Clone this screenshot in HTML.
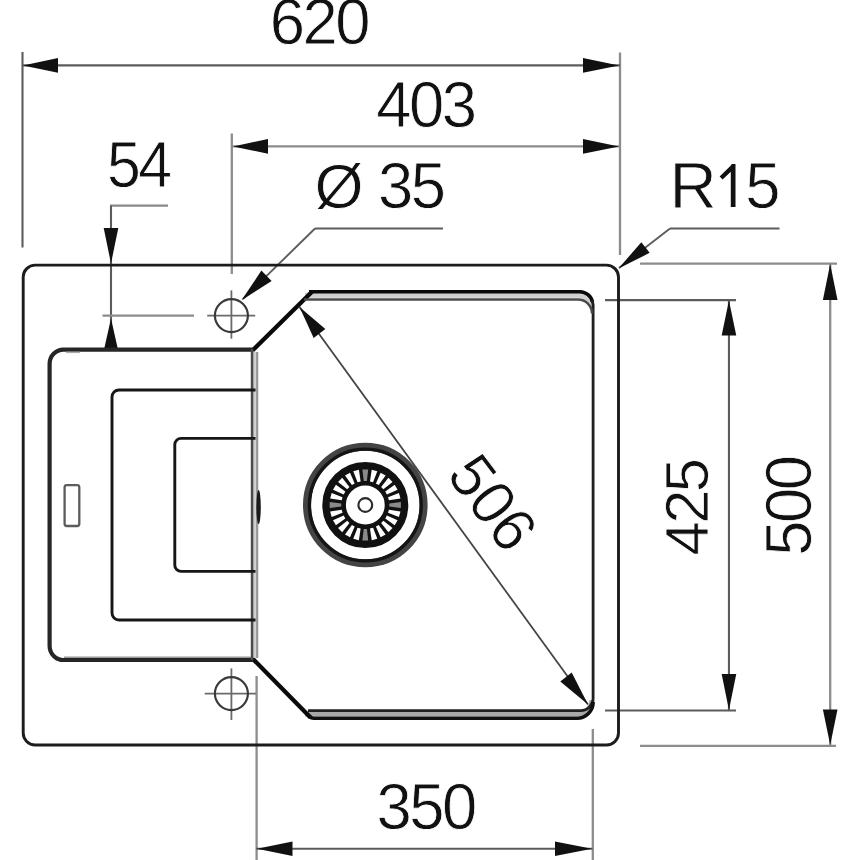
<!DOCTYPE html>
<html><head><meta charset="utf-8"><style>
html,body{margin:0;padding:0;background:#fff;}
svg{display:block;}
text{font-family:"Liberation Sans",sans-serif;fill:#111;stroke:#fff;stroke-width:0.8px;}
</style></head><body>
<svg width="860" height="860" viewBox="0 0 860 860">
<rect width="860" height="860" fill="#fff"/>
<line x1="22.5" y1="52" x2="22.5" y2="247.5" stroke="#5c5c5c" stroke-width="2.1"/>
<line x1="620" y1="52.5" x2="620" y2="255" stroke="#8c8c8c" stroke-width="2.3"/>
<line x1="22" y1="65.4" x2="620" y2="65.4" stroke="#5c5c5c" stroke-width="2.1"/>
<polygon points="23.00,65.40 58.00,58.10 58.00,72.70" fill="#111"/>
<polygon points="619.00,65.40 583.00,72.70 583.00,58.10" fill="#111"/>
<text x="0" y="0" font-size="65.4" text-anchor="middle" letter-spacing="-2.6" transform="translate(318.80 44.30) scale(0.97 1)">620</text>
<line x1="231.8" y1="133.5" x2="231.8" y2="274" stroke="#8c8c8c" stroke-width="2.3"/>
<line x1="232" y1="146.4" x2="620" y2="146.4" stroke="#8c8c8c" stroke-width="2.3"/>
<polygon points="233.00,146.40 268.00,139.10 268.00,153.70" fill="#111"/>
<polygon points="619.00,146.40 583.00,153.70 583.00,139.10" fill="#111"/>
<text x="0" y="0" font-size="65.4" text-anchor="middle" letter-spacing="-2.6" transform="translate(425.50 127.30) scale(0.97 1)">403</text>
<line x1="110" y1="205.6" x2="168" y2="205.6" stroke="#888" stroke-width="2.3"/>
<line x1="111" y1="205.5" x2="111" y2="350" stroke="#5c5c5c" stroke-width="2.1"/>
<polygon points="111.00,263.50 103.70,228.00 118.30,228.00" fill="#111"/>
<polygon points="111.00,318.50 118.30,351.00 103.70,351.00" fill="#111"/>
<text x="0" y="0" font-size="65.4" text-anchor="middle" letter-spacing="-2.6" transform="translate(138.30 186.50) scale(0.93 1)">54</text>
<line x1="102.5" y1="315.6" x2="194" y2="315.6" stroke="#8c8c8c" stroke-width="2.3"/>
<line x1="315" y1="228.5" x2="443" y2="228.5" stroke="#5c5c5c" stroke-width="2.1"/>
<line x1="315" y1="228.5" x2="243" y2="299" stroke="#5c5c5c" stroke-width="1.9"/>
<polygon points="241.50,300.30 261.39,270.59 271.61,281.01" fill="#111"/>
<text x="0" y="0" font-size="62.5" text-anchor="middle" transform="translate(339.00 208.00) scale(1.01 1)">&#216;</text>
<text x="0" y="0" font-size="65.4" text-anchor="middle" letter-spacing="-2.6" transform="translate(410.80 208.40) scale(0.97 1)">35</text>
<line x1="670" y1="228.5" x2="779.5" y2="228.5" stroke="#5c5c5c" stroke-width="2.1"/>
<line x1="670" y1="228.5" x2="619" y2="268" stroke="#5c5c5c" stroke-width="1.9"/>
<polygon points="618.50,268.50 641.33,242.13 649.67,252.87" fill="#111"/>
<text x="0" y="0" font-size="65.5" text-anchor="start" letter-spacing="-2.6" transform="translate(669.50 208.20) scale(1.0 1)">R</text>
<text x="0" y="0" font-size="65.4" text-anchor="middle" letter-spacing="-2.6" transform="translate(761.60 207.50) scale(0.97 1)">5</text>
<polygon points="735.5,164 735.5,207 730.8,207 730.8,171.8 722.6,179.6 719.6,176.6 730.6,165.8 731.8,164" fill="#111"/>
<line x1="640" y1="263.7" x2="837" y2="263.7" stroke="#8c8c8c" stroke-width="2.3"/>
<line x1="605" y1="300.1" x2="736" y2="300.1" stroke="#5c5c5c" stroke-width="2.1"/>
<line x1="605" y1="710.5" x2="736" y2="710.5" stroke="#5c5c5c" stroke-width="2.1"/>
<line x1="640" y1="745.8" x2="836" y2="745.8" stroke="#8c8c8c" stroke-width="2.3"/>
<line x1="830.2" y1="263.5" x2="830.2" y2="745.5" stroke="#8c8c8c" stroke-width="2.3"/>
<line x1="728.95" y1="300" x2="728.95" y2="710.5" stroke="#5c5c5c" stroke-width="2.1"/>
<polygon points="830.20,264.00 837.50,300.00 822.90,300.00" fill="#111"/>
<polygon points="830.20,745.00 822.90,709.50 837.50,709.50" fill="#111"/>
<polygon points="728.95,300.50 736.25,335.50 721.65,335.50" fill="#111"/>
<polygon points="728.95,710.00 721.65,674.00 736.25,674.00" fill="#111"/>
<text x="0" y="0" font-size="61.5" text-anchor="middle" letter-spacing="-2.6" transform="translate(708.00 508.00) rotate(-90) scale(1.0 1)">425</text>
<text x="0" y="0" font-size="65.4" text-anchor="middle" letter-spacing="-2.6" transform="translate(810.50 506.50) rotate(-90) scale(0.97 1)">500</text>
<line x1="256.6" y1="676" x2="256.6" y2="860" stroke="#8c8c8c" stroke-width="2.3"/>
<line x1="592.8" y1="729" x2="592.8" y2="860" stroke="#8c8c8c" stroke-width="2.3"/>
<line x1="256.25" y1="848.8" x2="592.5" y2="848.8" stroke="#5c5c5c" stroke-width="2.1"/>
<polygon points="257.00,848.80 292.50,841.50 292.50,856.10" fill="#111"/>
<polygon points="592.00,848.80 555.00,856.10 555.00,841.50" fill="#111"/>
<text x="0" y="0" font-size="65.4" text-anchor="middle" letter-spacing="-2.6" transform="translate(425.60 829.40) scale(0.97 1)">350</text>
<rect x="23.2" y="265.1" width="595.3" height="479.9" rx="12" fill="none" stroke="#1c1c1c" stroke-width="2.9"/>
<path d="M305,295.3 L579,295.3 A14,14 0 0 1 592,309" fill="none" stroke="#cfcfcf" stroke-width="5"/>
<path d="M305,714 L579,714 A14,14 0 0 0 592,700" fill="none" stroke="#a8a8a8" stroke-width="5"/>
<path d="M309,291.7 L580,291.7 A13,13 0 0 1 592.5,302" fill="none" stroke="#0a0a0a" stroke-width="3.6"/>
<path d="M252.5,350.5 L312,291.7" fill="none" stroke="#0a0a0a" stroke-width="4.3"/>
<path d="M591.5,300 A13,13 0 0 1 593.1,304.7 L593.1,698 A12.5,12.5 0 0 1 580.6,710.6 L308,710.6" fill="none" stroke="#202020" stroke-width="2.8"/>
<path d="M304,299.6 L578,299.6 A14,14 0 0 1 592,313.6" fill="none" stroke="#4a4a4a" stroke-width="2.5"/>
<path d="M309,716 Q310.5,718.2 314,718.2 L577,718.2 A16,16 0 0 0 593.1,702" fill="none" stroke="#111" stroke-width="3.6"/>
<path d="M252.5,658.5 L310.5,717.5" fill="none" stroke="#0a0a0a" stroke-width="4.3"/>
<path d="M253,349.6 L63.5,349.6 A14,14 0 0 0 49.6,363.6 L49.6,646 A14,14 0 0 0 63.6,660 L253,660" fill="none" stroke="#262626" stroke-width="4.2"/>
<path d="M64,657.2 L252,657.2" fill="none" stroke="#9a9a9a" stroke-width="1.4"/>
<path d="M66,352.4 L80,352.4" fill="none" stroke="#aaa" stroke-width="1.4"/>
<line x1="254.6" y1="352" x2="254.6" y2="658" stroke="#d0d0d0" stroke-width="2.5"/>
<line x1="252.1" y1="349" x2="252.1" y2="660" stroke="#4a4a4a" stroke-width="2.6"/>
<line x1="257.1" y1="352" x2="257.1" y2="658" stroke="#999" stroke-width="2.4"/>
<path d="M255.5,390 L119,390 A7,7 0 0 0 112,397 L112,613 A7,7 0 0 0 119,620 L255.5,620" fill="none" stroke="#161616" stroke-width="2.9"/>
<path d="M255.5,438.4 L181,438.4 A6.2,6.2 0 0 0 174.8,444.6 L174.8,565.2 A6.2,6.2 0 0 0 181,571.4 L255.5,571.4" fill="none" stroke="#161616" stroke-width="2.9"/>
<rect x="64.6" y="485.2" width="14.7" height="40.8" rx="2.2" fill="none" stroke="#5c5c5c" stroke-width="2.3"/>
<ellipse cx="258.6" cy="507" rx="2.2" ry="17" fill="#1a1a1a"/>
<line x1="207.2" y1="315.6" x2="255.2" y2="315.6" stroke="#6a6a6a" stroke-width="1.8"/>
<line x1="231.4" y1="290.4" x2="231.4" y2="338.7" stroke="#6a6a6a" stroke-width="1.8"/>
<circle cx="231.4" cy="315.6" r="16.5" fill="none" stroke="#3a3a3a" stroke-width="2.2"/>
<line x1="204.7" y1="693.6" x2="256" y2="693.6" stroke="#6a6a6a" stroke-width="1.8"/>
<line x1="231.4" y1="668.4" x2="231.4" y2="720" stroke="#6a6a6a" stroke-width="1.8"/>
<circle cx="231.4" cy="693.6" r="16.5" fill="none" stroke="#3a3a3a" stroke-width="2.2"/>
<line x1="299.5" y1="307" x2="588" y2="704.5" stroke="#444" stroke-width="1.8"/>
<polygon points="299.50,307.00 325.33,329.10 313.67,337.90" fill="#111"/>
<polygon points="588.00,704.50 560.30,681.56 571.70,672.44" fill="#111"/>
<text x="0" y="0" font-size="62.5" text-anchor="middle" transform="translate(475.60 515.60) rotate(53) scale(0.97 1)">506</text>
<circle cx="365.3" cy="505" r="58.3" fill="none" stroke="#444" stroke-width="8"/>
<circle cx="365.3" cy="505" r="55.9" fill="none" stroke="#151515" stroke-width="3.4"/>
<circle cx="365.3" cy="505" r="31.2" fill="none" stroke="#111" stroke-width="23.6"/>
<polygon points="366.90,481.00 368.20,469.40 362.40,469.40 363.70,481.00" fill="#8a8a8a"/>
<polygon points="373.06,482.23 377.32,471.36 371.71,469.86 369.97,481.40" fill="#fff"/>
<polygon points="378.69,485.02 385.61,475.62 380.59,472.72 375.91,483.42" fill="#fff"/>
<polygon points="383.40,489.16 392.52,481.88 388.42,477.78 381.14,486.90" fill="#fff"/>
<polygon points="386.88,494.39 397.58,489.71 394.68,484.69 385.28,491.61" fill="#fff"/>
<polygon points="388.90,500.33 400.44,498.59 398.94,492.98 388.07,497.24" fill="#fff"/>
<polygon points="389.30,506.60 400.90,507.90 400.90,502.10 389.30,503.40" fill="#8a8a8a"/>
<polygon points="388.07,512.76 398.94,517.02 400.44,511.41 388.90,509.67" fill="#fff"/>
<polygon points="385.28,518.39 394.68,525.31 397.58,520.29 386.88,515.61" fill="#fff"/>
<polygon points="381.14,523.10 388.42,532.22 392.52,528.12 383.40,520.84" fill="#fff"/>
<polygon points="375.91,526.58 380.59,537.28 385.61,534.38 378.69,524.98" fill="#fff"/>
<polygon points="369.97,528.60 371.71,540.14 377.32,538.64 373.06,527.77" fill="#fff"/>
<polygon points="363.70,529.00 362.40,540.60 368.20,540.60 366.90,529.00" fill="#8a8a8a"/>
<polygon points="357.54,527.77 353.28,538.64 358.89,540.14 360.63,528.60" fill="#fff"/>
<polygon points="351.91,524.98 344.99,534.38 350.01,537.28 354.69,526.58" fill="#fff"/>
<polygon points="347.20,520.84 338.08,528.12 342.18,532.22 349.46,523.10" fill="#fff"/>
<polygon points="343.72,515.61 333.02,520.29 335.92,525.31 345.32,518.39" fill="#fff"/>
<polygon points="341.70,509.67 330.16,511.41 331.66,517.02 342.53,512.76" fill="#fff"/>
<polygon points="341.30,503.40 329.70,502.10 329.70,507.90 341.30,506.60" fill="#8a8a8a"/>
<polygon points="342.53,497.24 331.66,492.98 330.16,498.59 341.70,500.33" fill="#fff"/>
<polygon points="345.32,491.61 335.92,484.69 333.02,489.71 343.72,494.39" fill="#fff"/>
<polygon points="349.46,486.90 342.18,477.78 338.08,481.88 347.20,489.16" fill="#fff"/>
<polygon points="354.69,483.42 350.01,472.72 344.99,475.62 351.91,485.02" fill="#fff"/>
<polygon points="360.63,481.40 358.89,469.86 353.28,471.36 357.54,482.23" fill="#fff"/>
<circle cx="365.3" cy="505" r="6.9" fill="none" stroke="#2a2a2a" stroke-width="2.1"/>
</svg>
</body></html>
